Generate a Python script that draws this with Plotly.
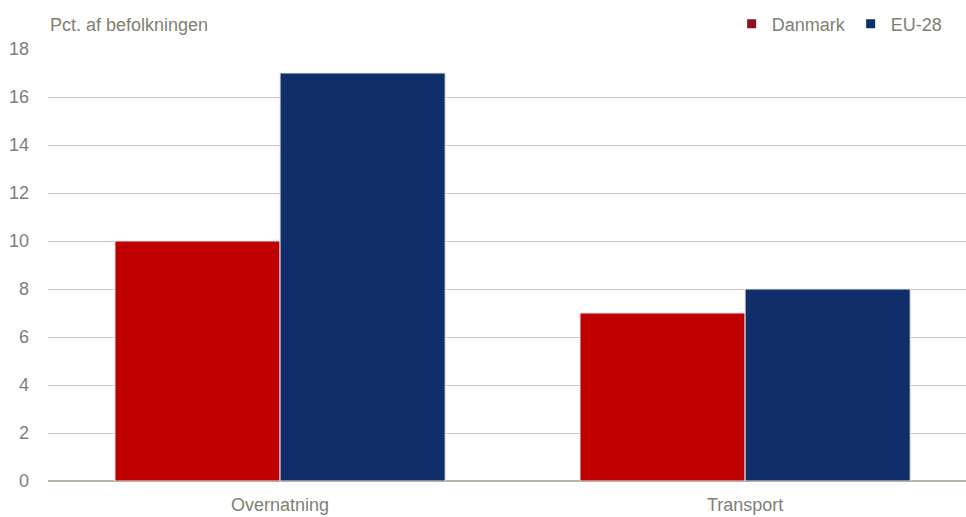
import plotly.graph_objects as go

categories = ["Overnatning", "Transport"]
danmark = [10, 7]
eu28 = [17, 8]
y_ticks = [0, 2, 4, 6, 8, 10, 12, 14, 16, 18]

FONT = "Liberation Sans Narrow, Arial Narrow, Liberation Sans, sans-serif"
TXT = "#7f7f73"
GRID = "#c9c9bf"

fig = go.Figure()
fig.add_trace(go.Bar(x=categories, y=danmark, name="Danmark", marker=dict(color="#c00000", line=dict(color="#e6e6e6", width=1)), showlegend=False))
fig.add_trace(go.Bar(x=categories, y=eu28, name="EU-28", marker=dict(color="#102e6a", line=dict(color="#e6e6e6", width=1)), showlegend=False))
fig.add_trace(go.Scatter(x=[None], y=[None], mode="markers", name="Danmark", marker=dict(symbol="square", size=9, color="#8c1026")))
fig.add_trace(go.Scatter(x=[None], y=[None], mode="markers", name="EU-28", marker=dict(symbol="square", size=9, color="#102e6a")))

fig.update_layout(
    width=966, height=517,
    margin=dict(l=48, r=0, t=49, b=36, autoexpand=False),
    paper_bgcolor="white", plot_bgcolor="white",
    font=dict(family=FONT, size=18, color=TXT),
    barmode="group", bargap=0.29, bargroupgap=0,
    showlegend=True,
    legend=dict(orientation="h", x=0.98, xanchor="right", y=1.058, yanchor="middle",
                font=dict(size=18, color=TXT), itemwidth=30, tracegroupgap=0, bgcolor="rgba(0,0,0,0)"),
    xaxis=dict(range=[-0.499, 1.475], showgrid=False, zeroline=False, showline=False, ticks="", ticklabelstandoff=11,
               tickfont=dict(size=18, color=TXT)),
    yaxis=dict(range=[0, 18], tickvals=y_ticks, showgrid=True, gridcolor=GRID, gridwidth=1.3, zeroline=True, zerolinecolor="#b5b5aa", zerolinewidth=1.5,
               showline=False, ticks="", ticklabelstandoff=18, tickfont=dict(size=18, color=TXT)),
    annotations=[dict(text="Pct. af befolkningen", xref="paper", yref="paper", x=0.0, y=1.0, xanchor="left", yanchor="bottom", yshift=12,
                      showarrow=False, font=dict(size=18, color=TXT))],
)
fig.write_html("out.html", config={"displayModeBar": False},
               post_script="document.body.style.margin='0';document.body.style.overflow='hidden';")
